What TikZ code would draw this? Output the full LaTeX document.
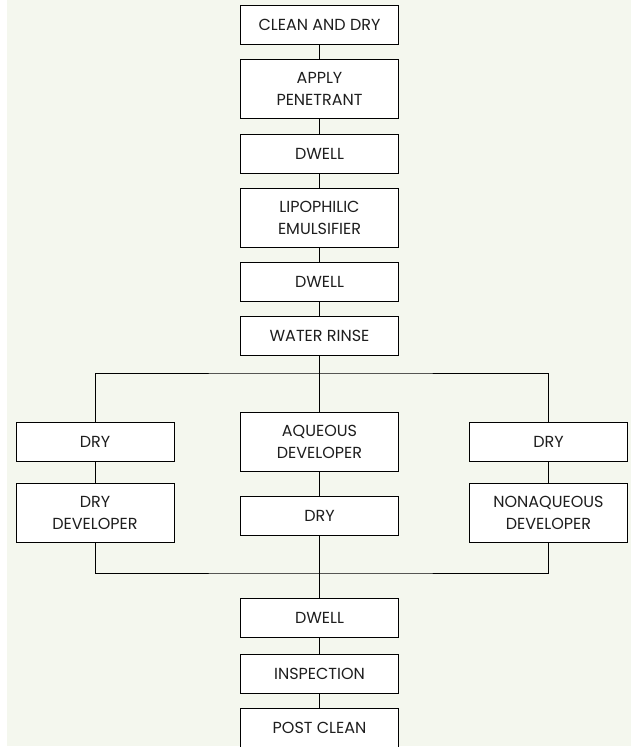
\documentclass[tikz,border=0pt]{standalone}
\usepackage{fontspec}
\setmainfont{Poppins}
\usetikzlibrary{positioning}
\definecolor{paper}{RGB}{244,247,238}
\definecolor{ink}{RGB}{30,30,30}
\tikzstyle{stepbox} = [rectangle, draw=black, line width=1pt, fill=white, minimum width=158pt, minimum height=39pt, text centered, align=center, text=ink, font=\fontsize{16}{22}\selectfont]
\tikzstyle{tallbox} = [stepbox, minimum height=59pt]
\tikzstyle{link} = [line width=0.9pt, black]

\begin{document}
\begin{tikzpicture}[x=1pt, y=-1pt]
               \useasboundingbox (0,0) rectangle (631,747);
               \fill [paper] (7,0) rectangle (631,746);
               % main line
               \node [stepbox] at (319.5,24.5) (clean) {CLEAN AND DRY};
               \node [tallbox] at (319.5,88.5) (apply) {APPLY\\PENETRANT};
               \node [stepbox] at (319.5,153.5) (dwellA) {DWELL};
               \node [tallbox] at (319.5,218) (emul) {LIPOPHILIC\\EMULSIFIER};
               \node [stepbox] at (319.5,282) (dwellB) {DWELL};
               \node [stepbox] at (319.5,336) (rinse) {WATER RINSE};
               % three branches
               \node [stepbox] at (95,441.5) (dryL) {DRY};
               \node [tallbox] at (95,512.5) (drydev) {DRY\\DEVELOPER};
               \node [tallbox] at (319.5,441.5) (aqdev) {AQUEOUS\\DEVELOPER};
               \node [stepbox] at (319.5,515.5) (dryM) {DRY};
               \node [stepbox] at (548.5,441.5) (dryR) {DRY};
               \node [tallbox] at (548.5,512.5) (nadev) {NONAQUEOUS\\DEVELOPER};
               % end
               \node [stepbox] at (319.5,618) (dwellC) {DWELL};
               \node [stepbox] at (319.5,673.5) (insp) {INSPECTION};
               \node [stepbox] at (319.5,728) (post) {POST CLEAN};
               \coordinate (split) at (319.5,373);
               \coordinate (join) at (319.5,573);
               \draw [link] (clean) -- (apply);
               \draw [link] (apply) -- (dwellA);
               \draw [link] (dwellA) -- (emul);
               \draw [link] (emul) -- (dwellB);
               \draw [link] (dwellB) -- (rinse);
               \draw [link] (rinse) -- (aqdev);
               \draw [link] (dryL) |- (split) -| (dryR);
               \draw [link] (dryL) -- (drydev);
               \draw [link] (aqdev) -- (dryM);
               \draw [link] (dryR) -- (nadev);
               \draw [link] (drydev) |- (join) -| (nadev);
               \draw [link] (dryM) -- (dwellC);
               \draw [link] (dwellC) -- (insp);
               \draw [link] (insp) -- (post);
\end{tikzpicture}
\end{document}
